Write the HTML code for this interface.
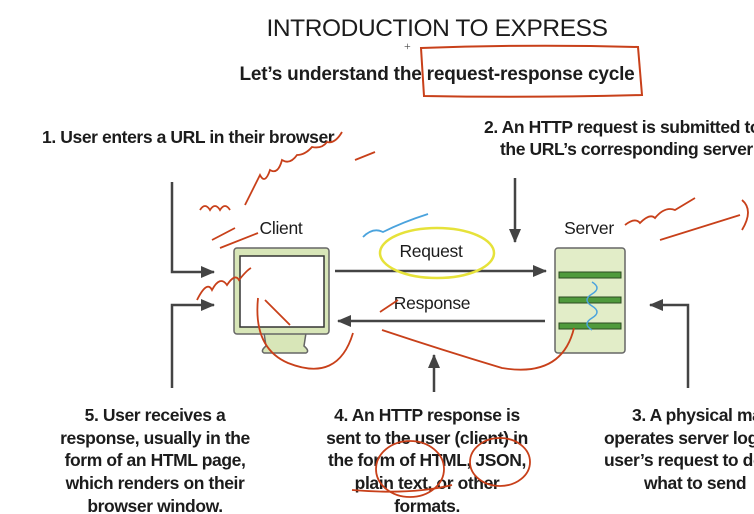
<!DOCTYPE html>
<html><head><meta charset="utf-8"><style>
html,body{margin:0;padding:0;background:#fff;width:754px;height:514px;overflow:hidden}
svg{display:block}
.t{font-family:"Liberation Sans",sans-serif;fill:#1c1c1c}
.b{font-weight:bold;font-size:17.5px;letter-spacing:-0.4px}
</style></head><body>
<svg width="754" height="514" viewBox="0 0 754 514" xmlns="http://www.w3.org/2000/svg">
<defs>
<marker id="ah" markerWidth="14" markerHeight="14" refX="13" refY="6" orient="auto" markerUnits="userSpaceOnUse"><path d="M0,0 L14,6 L0,12 z" fill="#444"/></marker>
</defs>
<text class="t" x="437" y="36" font-size="24.5" text-anchor="middle" letter-spacing="-0.4">INTRODUCTION TO EXPRESS</text>
<text class="t" x="437" y="80" font-size="19" font-weight="bold" text-anchor="middle" letter-spacing="-0.2">Let’s understand the request-response cycle</text>
<path d="M421,48 Q530,44 638,47 L642,95 Q530,98 424,96 Z" fill="none" stroke="#c8401a" stroke-width="2"/>
<text class="t b" x="42" y="143">1. User enters a URL in their browser</text>
<text class="t b" x="484" y="133">2. An HTTP request is submitted to</text>
<text class="t b" x="500" y="155">the URL’s corresponding server</text>
<g stroke="#444" stroke-width="2.5" fill="none">
<path d="M172,182 V272 H214" marker-end="url(#ah)"/>
<path d="M172,388 V305 H214" marker-end="url(#ah)"/>
<path d="M335,271 H546" marker-end="url(#ah)"/>
<path d="M545,321 H338" marker-end="url(#ah)"/>
<path d="M515,178 V242" marker-end="url(#ah)"/>
<path d="M434,392 V355" marker-end="url(#ah)"/>
<path d="M688,388 V305 H650" marker-end="url(#ah)"/>
</g>
<text class="t" x="281" y="234" font-size="17.5" letter-spacing="-0.3" text-anchor="middle">Client</text>
<text class="t" x="589" y="234" font-size="17.5" letter-spacing="-0.3" text-anchor="middle">Server</text>
<text class="t" x="431" y="257" font-size="17.5" letter-spacing="-0.3" text-anchor="middle">Request</text>
<text class="t" x="432" y="309" font-size="17.5" letter-spacing="-0.3" text-anchor="middle">Response</text>
<path d="M264,333 L306,333 L304,346 Q310,351 306,353 H264 Q260,351 266,346 Z" fill="#d8e6b8" stroke="#666" stroke-width="1.5"/>
<rect x="234" y="248" width="95" height="86" rx="3" fill="#d8e6b8" stroke="#666" stroke-width="1.5"/>
<rect x="240" y="256" width="84" height="71" fill="#fff" stroke="#333" stroke-width="1.5"/>
<rect x="555" y="248" width="70" height="105" rx="3" fill="#e2edc8" stroke="#666" stroke-width="1.5"/>
<g fill="#4f9a3c" stroke="#2c4a22" stroke-width="1"><rect x="559" y="272" width="62" height="6"/><rect x="559" y="297" width="62" height="6"/><rect x="559" y="323" width="62" height="6"/></g>
<g class="t b" text-anchor="middle">
<text x="155" y="421">5. User receives a</text><text x="155" y="444">response, usually in the</text><text x="155" y="466">form of an HTML page,</text><text x="155" y="489">which renders on their</text><text x="155" y="512">browser window.</text>
<text x="427" y="421">4. An HTTP response is</text><text x="427" y="444">sent to the user (client) in</text><text x="427" y="466">the form of HTML, JSON,</text><text x="427" y="489">plain text, or other</text><text x="427" y="512">formats.</text>
</g>
<g class="t b">
<text x="632" y="421">3. A physical machine</text><text x="604" y="444">operates server logic</text><text x="604" y="466">user’s request to decide</text><text x="644" y="489">what to send</text>
</g>
<g fill="none" stroke="#c8401a" stroke-width="1.8">
<path d="M200,210 q5,-8 10,0 q5,-8 10,0 q5,-8 10,0 M245,205 q10,-20 15,-30 q5,10 10,-5 q8,5 12,-10 q8,5 15,-5 q8,0 15,-8 q10,2 15,-5 q8,2 15,-10"/>
<path d="M355,160 L375,152 M212,240 L235,228 M220,248 L258,233"/>
<path d="M197,300 q10,-20 15,-10 q8,-15 15,-5 q8,-12 12,-5 q8,-10 12,-12 M265,300 L290,325"/>
<path d="M258,298 q-5,50 30,65 q50,20 65,-30 M382,330 q60,20 120,38 q60,10 72,-40"/>
<path d="M380,312 L398,300"/>
<ellipse cx="410" cy="469" rx="34" ry="28"/><ellipse cx="500" cy="462" rx="30" ry="24"/>
<path d="M352,490 q60,5 100,-5"/>
<path d="M625,225 q10,-8 15,-2 q10,-10 15,-5 q10,-12 20,-8 q10,-6 20,-12 M660,240 L740,215 M742,200 q12,10 0,30"/>
</g>
<path d="M363,237 q10,-10 20,-5 q20,-10 45,-18" fill="none" stroke="#4aa3dd" stroke-width="1.8"/>
<path d="M592,282 q10,6 0,12 q-10,6 0,12 q10,6 0,12 q-10,6 0,12" fill="none" stroke="#4aa3dd" stroke-width="1.5"/>
<ellipse cx="437" cy="253" rx="57" ry="25" fill="none" stroke="#e6e23a" stroke-width="2.5"/>
<text x="404" y="50" font-size="12" fill="#444">+</text>
</svg>
</body></html>
